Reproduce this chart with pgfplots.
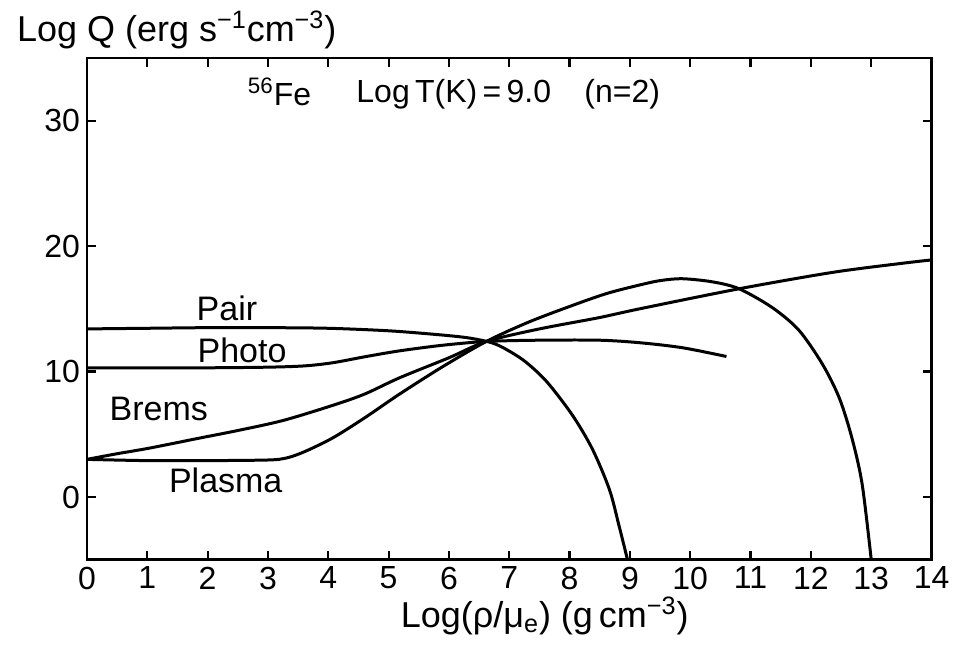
\documentclass[border=0pt]{standalone}
\usepackage{pgfplots}
\pgfplotsset{compat=1.18}
\usepackage{fontspec}
\setmainfont{Liberation Sans}

\begin{document}
\begin{tikzpicture}
\begin{axis}[
  scale only axis,
  width=422.5pt, height=251pt,
  xmin=0, xmax=14, ymin=-5, ymax=35,
  xtick={0,1,...,14},
  ytick={0,10,20,30},
  tick align=inside,
  major tick length=4.5pt,
  axis line style={line width=1.4pt},
  every tick/.style={black, line width=1.1pt},
  tick label style={font=\fontsize{16}{18}\selectfont},
  /pgf/number format/assume math mode=true,
  clip=false,
  every axis plot/.append style={line width=1.5pt, smooth, tension=0.5},
]
% Pair annihilation
\addplot[black] coordinates {
 (0,13.4) (1,13.45) (2,13.5) (3,13.5) (4,13.45) (5,13.25) (5.8,12.95)
 (6.3,12.7) (6.67,12.35) (6.9,11.9) (7.25,10.85) (7.62,9.2) (8.05,6.5)
 (8.38,3.8) (8.66,0.6) (8.82,-2.3) (8.96,-5)};
% Photoneutrino
\addplot[black] coordinates {
 (0,10.3) (1,10.3) (2,10.3) (3,10.35) (3.6,10.45) (4.07,10.7) (4.63,11.2)
 (5.18,11.65) (5.9,12.1) (6.62,12.4) (7.5,12.5) (8.49,12.5) (9.16,12.3)
 (9.87,11.9) (10.6,11.2)};
% Bremsstrahlung
\addplot[black] coordinates {
 (0,3.0) (0.5,3.45) (1.04,3.9) (1.87,4.7) (2.5,5.3) (3.25,6.1) (4.07,7.3)
 (4.6,8.2) (5.18,9.5) (6.0,11.1) (6.62,12.4) (7.5,13.4) (8.49,14.3)
 (9.16,15.0) (10.81,16.6) (12.35,17.9) (13.46,18.6) (14,18.9)};
% Plasma
\addplot[black] coordinates {
 (0,3.0) (1,2.9) (2,2.9) (3,2.95) (3.3,3.1) (3.6,3.6) (4.07,4.7)
 (4.6,6.3) (5.18,8.2) (5.9,10.4) (6.62,12.4) (7.3,13.9) (7.95,15.1)
 (8.6,16.2) (9.16,16.9) (9.5,17.25) (9.87,17.4) (10.37,17.15) (10.81,16.6)
 (11.36,15.1) (11.8,13.3) (12.19,10.6) (12.47,7.9) (12.68,4.7)
 (12.85,1.0) (13.0,-5)};

\node[font=\fontsize{17}{19}\selectfont] at (axis cs:2.32,15.0) {Pair};
\node[font=\fontsize{17}{19}\selectfont] at (axis cs:2.57,11.7) {Photo};
\node[font=\fontsize{17}{19}\selectfont] at (axis cs:1.19,7.0) {Brems};
\node[font=\fontsize{17}{19}\selectfont] at (axis cs:2.30,1.3) {Plasma};

\node[font=\fontsize{16}{18}\selectfont, anchor=west] at (axis cs:2.55,32.3) {\textsuperscript{56}Fe};
\node[font=\fontsize{16}{18}\selectfont, anchor=west] at (axis cs:4.35,32.1) {Log\,T(K)\,=\,9.0};
\node[font=\fontsize{16}{18}\selectfont, anchor=west] at (axis cs:8.13,32.1) {(n=2)};

\node[font=\fontsize{18}{20}\selectfont, anchor=west] at (rel axis cs:0,1) [xshift=-38.5pt, yshift=14pt]
  {Log Q (erg s\textsuperscript{−1}cm\textsuperscript{−3})};
\node[font=\fontsize{18}{20}\selectfont, inner sep=1pt] at (rel axis cs:0.542,0) [yshift=-28pt]
  {Log(ρ/μ\textsubscript{e}) (g\,cm\textsuperscript{−3})};

\path (rel axis cs:0,0) ++(-43.5pt,-44.5pt) coordinate (bbsw);
\path (rel axis cs:1,1) ++(12pt,29pt) coordinate (bbne);
\path (bbsw) rectangle (bbne);
\end{axis}
\end{tikzpicture}
\end{document}
